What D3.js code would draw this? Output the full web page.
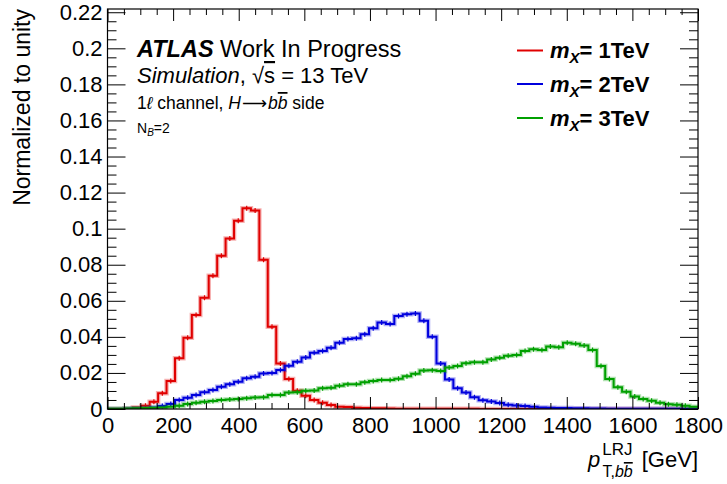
<!DOCTYPE html>
<html>
<head>
<meta charset="utf-8">
<script src="https://cdn.jsdelivr.net/npm/d3@7"></script>
<style>
  html, body { margin: 0; padding: 0; background: #fff; }
  svg { display: block; font-family: "Liberation Sans", Arial, Helvetica, sans-serif; }
</style>
</head>
<body>
<svg id="chart" width="727" height="484"></svg>
<script>
// Binning: 70 equal bins from 0 to 1800 GeV
const xMin = 0, xMax = 1800, nBins = 70;

// Normalized bin contents, m_X = 1 TeV
const mx1TeV = [
  0, 0, 0.0002, 0.0009, 0.0018, 0.0040, 0.0087, 0.0155, 0.0281, 0.0395,
  0.0521, 0.0617, 0.0739, 0.0850, 0.0945, 0.1044, 0.1113, 0.1100, 0.0827, 0.0456,
  0.0252, 0.0167, 0.0101, 0.0074, 0.0050, 0.0035, 0.0022, 0.0013, 0.0011, 0.0007,
  0.0005, 0.0004, 0.0004, 0.0003, 0.0002, 0.0002, 0.0002, 0.0001, 0.0001, 0.0001,
  0.0001, 0.0001, 0.0001, 0.0001, 0, 0, 0, 0, 0, 0,
  0, 0, 0, 0, 0, 0, 0, 0, 0, 0,
  0, 0, 0, 0, 0, 0, 0, 0, 0, 0
];

// Normalized bin contents, m_X = 2 TeV
const mx2TeV = [
  0, 0, 0.0002, 0.0003, 0.0005, 0.0009, 0.0017, 0.0028, 0.0050, 0.0062,
  0.0078, 0.0093, 0.0106, 0.0124, 0.0137, 0.0151, 0.0170, 0.0179, 0.0197, 0.0200,
  0.0216, 0.0240, 0.0262, 0.0286, 0.0312, 0.0322, 0.0340, 0.0368, 0.0388, 0.0392,
  0.0415, 0.0448, 0.0479, 0.0471, 0.0515, 0.0526, 0.0530, 0.0490, 0.0401, 0.0252,
  0.0164, 0.0115, 0.0091, 0.0065, 0.0048, 0.0042, 0.0033, 0.0024, 0.0020, 0.0017,
  0.0013, 0.0009, 0.0007, 0.0006, 0.0005, 0.0004, 0.0004, 0.0003, 0.0003, 0.0002,
  0.0002, 0.0002, 0.0001, 0.0001, 0.0001, 0.0001, 0.0001, 0.0001, 0.0001, 0.0001
];

// Normalized bin contents, m_X = 3 TeV
const mx3TeV = [
  0.0001, 0.0002, 0.0003, 0.0004, 0.0005, 0.0007, 0.0009, 0.0013, 0.0018, 0.0028,
  0.0035, 0.0040, 0.0044, 0.0050, 0.0053, 0.0055, 0.0059, 0.0064, 0.0065, 0.0077,
  0.0078, 0.0091, 0.0093, 0.0101, 0.0102, 0.0115, 0.0118, 0.0129, 0.0137, 0.0137,
  0.0148, 0.0155, 0.0161, 0.0161, 0.0168, 0.0181, 0.0195, 0.0213, 0.0215, 0.0211,
  0.0230, 0.0239, 0.0253, 0.0259, 0.0259, 0.0275, 0.0284, 0.0295, 0.0299, 0.0322,
  0.0331, 0.0327, 0.0346, 0.0342, 0.0368, 0.0362, 0.0352, 0.0327, 0.0239, 0.0166,
  0.0120, 0.0096, 0.0069, 0.0055, 0.0046, 0.0035, 0.0027, 0.0024, 0.0018, 0.0013
];

const seriesNames = ["1TeV", "2TeV", "3TeV"];
const seriesColors = ["#e00000", "#0000dd", "#00a000"];

const xTicks = [0, 200, 400, 600, 800, 1000, 1200, 1400, 1600, 1800];
const xTickLabels = ["0", "200", "400", "600", "800", "1000", "1200", "1400", "1600", "1800"];
const yTicks = [0, 0.02, 0.04, 0.06, 0.08, 0.1, 0.12, 0.14, 0.16, 0.18, 0.2, 0.22];
const yTickLabels = ["0", "0.02", "0.04", "0.06", "0.08", "0.1", "0.12", "0.14", "0.16", "0.18", "0.2", "0.22"];

// ---- frame geometry ----
const frame = { left: 107.5, right: 698, top: 9, bottom: 409 };
const yTop = 0.2218;

const svg = d3.select("#chart");
const x = d3.scaleLinear().domain([xMin, xMax]).range([frame.left, frame.right]);
const y = d3.scaleLinear().domain([0, yTop]).range([frame.bottom, frame.top]);

const tickFont = 22;
const binWidth = (xMax - xMin) / nBins;
const edges = d3.range(nBins + 1).map(i => xMin + i * binWidth);

// clip for histogram lines
svg.append("defs").append("clipPath").attr("id", "plotclip")
  .append("rect")
  .attr("x", frame.left).attr("y", frame.top)
  .attr("width", frame.right - frame.left).attr("height", frame.bottom - frame.top);

// ---- histograms ----
const stepLine = d3.line().x(d => x(d[0])).y(d => y(d[1])).curve(d3.curveStepAfter);
const allSeries = [mx1TeV, mx2TeV, mx3TeV];
const histG = svg.append("g").attr("clip-path", "url(#plotclip)");

allSeries.forEach((vals, k) => {
  const pts = vals.map((v, i) => [edges[i], v]);
  pts.push([edges[nBins], vals[nBins - 1]]);
  const g = histG.append("g");
  // soft uncertainty band
  g.append("path").attr("d", stepLine(pts))
    .attr("fill", "none").attr("stroke", seriesColors[k])
    .attr("stroke-opacity", 0.3).attr("stroke-width", 4.5);
  g.append("path").attr("d", stepLine(pts))
    .attr("fill", "none").attr("stroke", seriesColors[k])
    .attr("stroke-width", 2);
  // small error markers at bin centres
  g.selectAll("path.err").data(vals.map((v, i) => [(edges[i] + edges[i + 1]) / 2, v]).filter(d => d[1] > 0.0015))
    .enter().append("path").attr("class", "err")
    .attr("d", d => {
      const cx = x(d[0]), cy = y(d[1]);
      return `M${cx},${cy - 2.5}V${cy + 2.5}M${cx - 2},${cy}H${cx + 2}`;
    })
    .attr("stroke", seriesColors[k]).attr("stroke-width", 1.2).attr("fill", "none");
});

// ---- axes (ticks drawn inward on all four sides) ----
const xMinor = d3.range(0, 1801, 50).filter(v => v % 200 !== 0);
const yMinor = d3.range(0, 45).map(i => +(i * 0.005).toFixed(3)).filter(v => v <= yTop && Math.round(v * 1000) % 20 !== 0);

function styleAxis(g) {
  g.select(".domain").remove();
  g.selectAll("line").attr("stroke", "#000").attr("stroke-width", 1);
  g.selectAll("text").attr("font-size", tickFont).attr("fill", "#000")
    .attr("font-family", '"Liberation Sans", Arial, Helvetica, sans-serif');
}

// bottom
svg.append("g").attr("transform", `translate(0,${frame.bottom})`)
  .call(d3.axisBottom(x).tickValues(xTicks).tickFormat((d, i) => xTickLabels[i]).tickSizeInner(-12).tickSizeOuter(0).tickPadding(8))
  .call(styleAxis);
svg.append("g").attr("transform", `translate(0,${frame.bottom})`)
  .call(d3.axisBottom(x).tickValues(xMinor).tickFormat("").tickSizeInner(-6).tickSizeOuter(0))
  .call(styleAxis);
// top
svg.append("g").attr("transform", `translate(0,${frame.top})`)
  .call(d3.axisTop(x).tickValues(xTicks).tickFormat("").tickSizeInner(-12).tickSizeOuter(0))
  .call(styleAxis);
svg.append("g").attr("transform", `translate(0,${frame.top})`)
  .call(d3.axisTop(x).tickValues(xMinor).tickFormat("").tickSizeInner(-6).tickSizeOuter(0))
  .call(styleAxis);
// left
svg.append("g").attr("transform", `translate(${frame.left},0)`)
  .call(d3.axisLeft(y).tickValues(yTicks).tickFormat((d, i) => yTickLabels[i]).tickSizeInner(-18).tickSizeOuter(0).tickPadding(5))
  .call(styleAxis);
svg.append("g").attr("transform", `translate(${frame.left},0)`)
  .call(d3.axisLeft(y).tickValues(yMinor).tickFormat("").tickSizeInner(-9).tickSizeOuter(0))
  .call(styleAxis);
// right
svg.append("g").attr("transform", `translate(${frame.right},0)`)
  .call(d3.axisRight(y).tickValues(yTicks).tickFormat("").tickSizeInner(-18).tickSizeOuter(0))
  .call(styleAxis);
svg.append("g").attr("transform", `translate(${frame.right},0)`)
  .call(d3.axisRight(y).tickValues(yMinor).tickFormat("").tickSizeInner(-9).tickSizeOuter(0))
  .call(styleAxis);

// frame
svg.append("rect")
  .attr("x", frame.left).attr("y", frame.top)
  .attr("width", frame.right - frame.left).attr("height", frame.bottom - frame.top)
  .attr("fill", "none").attr("stroke", "#000").attr("stroke-width", 1.2);

// ---- axis titles ----
svg.append("text")
  .attr("transform", `translate(30,${frame.top}) rotate(-90)`)
  .attr("text-anchor", "end").attr("font-size", 23)
  .text("Normalized to unity");

const xt = svg.append("text").attr("x", frame.right).attr("y", 467)
  .attr("text-anchor", "end").attr("font-size", 22);
xt.append("tspan").attr("font-style", "italic").text("p");
xt.append("tspan").attr("font-size", 17).attr("dx", 2).attr("dy", -12).text("LRJ");
xt.append("tspan").attr("font-size", 16).attr("dx", -30).attr("dy", 22).text("T,");
xt.append("tspan").attr("font-size", 16).attr("font-style", "italic").text("b");
xt.append("tspan").attr("font-size", 16).attr("font-style", "italic")
  .attr("text-decoration", "overline").text("b");
xt.append("tspan").attr("dx", 9).attr("dy", -10).text("[GeV]");

// ---- ATLAS label block ----
const t1 = svg.append("text").attr("x", 137).attr("y", 57).attr("font-size", 23.5);
t1.append("tspan").attr("font-weight", "bold").attr("font-style", "italic").text("ATLAS");
t1.append("tspan").text(" Work In Progress");

const t2 = svg.append("text").attr("x", 137).attr("y", 83).attr("font-size", 22);
t2.append("tspan").attr("font-style", "italic").text("Simulation");
t2.append("tspan").text(", √");
t2.append("tspan").attr("text-decoration", "overline").text("s");
t2.append("tspan").text(" = 13 TeV");

const t3 = svg.append("text").attr("x", 137).attr("y", 109).attr("font-size", 17.5);
t3.append("tspan").text("1");
t3.append("tspan").attr("font-style", "italic").text("ℓ");
t3.append("tspan").text(" channel, ");
t3.append("tspan").attr("font-style", "italic").text("H");
t3.append("tspan").attr("font-family", "DejaVu Sans").attr("dx", 1).text("⟶");
t3.append("tspan").attr("font-style", "italic").attr("dx", 1).text("b");
t3.append("tspan").attr("font-style", "italic").attr("text-decoration", "overline").text("b");
t3.append("tspan").text(" side");

const t4 = svg.append("text").attr("x", 137).attr("y", 133).attr("font-size", 14);
t4.append("tspan").text("N");
t4.append("tspan").attr("font-size", 10).attr("font-style", "italic").attr("dy", 3).text("B");
t4.append("tspan").attr("dy", -3).text("=2");

// ---- legend ----
const legendRowsY = [50.5, 84, 118];
seriesNames.forEach((name, k) => {
  const ly = legendRowsY[k];
  svg.append("line").attr("x1", 517).attr("x2", 543).attr("y1", ly).attr("y2", ly)
    .attr("stroke", seriesColors[k]).attr("stroke-width", 2);
  const lt = svg.append("text").attr("x", 550).attr("y", ly + 7.5)
    .attr("font-size", 22).attr("font-weight", "bold");
  lt.append("tspan").attr("font-style", "italic").text("m");
  lt.append("tspan").attr("font-style", "italic").attr("font-size", 15).attr("dy", 5).text("X");
  lt.append("tspan").attr("dy", -5).text("= " + name);
});
</script>
</body>
</html>
